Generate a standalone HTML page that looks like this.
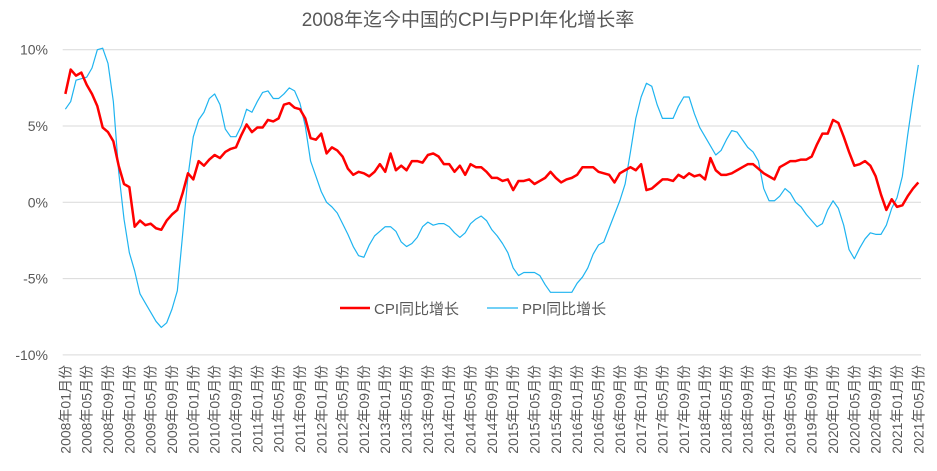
<!DOCTYPE html>
<html><head><meta charset="utf-8"><style>
html,body{margin:0;padding:0;background:#fff;}
svg{display:block;font-family:"Liberation Sans","Noto Sans CJK SC",sans-serif;}
</style></head><body>
<svg id="chart" width="937" height="471" viewBox="0 0 937 471" xmlns="http://www.w3.org/2000/svg">
<rect width="937" height="471" fill="#fff"/>
<text x="468" y="26" text-anchor="middle" font-size="19" fill="#595959" font-family="'Liberation Sans','Noto Sans CJK SC',sans-serif">2008年迄今中国的CPI与PPI年化增长率</text>
<g id="grid"></g><g id="ylabels"></g><g id="xlabels"></g><g id="series"></g>
<g>
<line x1="340" y1="308" x2="370" y2="308" stroke="#ff0000" stroke-width="2.5"/>
<text x="374" y="314" font-size="15" fill="#595959">CPI同比增长</text>
<line x1="487" y1="308" x2="518" y2="308" stroke="#1fb4f0" stroke-width="1.2"/>
<text x="522" y="314" font-size="15" fill="#595959">PPI同比增长</text>
</g>
</svg>
<script>
const yTicks = [10, 5, 0, -5, -10];
const yTickLabels = ["10%", "5%", "0%", "-5%", "-10%"];
const startYear = 2008, startMonth = 1;
const cpi = [7.1,8.7,8.3,8.5,7.7,7.1,6.3,4.9,4.6,4.0,2.4,1.2,
1.0,-1.6,-1.2,-1.5,-1.4,-1.7,-1.8,-1.2,-0.8,-0.5,0.6,1.9,
1.5,2.7,2.4,2.8,3.1,2.9,3.3,3.5,3.6,4.4,5.1,4.6,
4.9,4.9,5.4,5.3,5.5,6.4,6.5,6.2,6.1,5.5,4.2,4.1,
4.5,3.2,3.6,3.4,3.0,2.2,1.8,2.0,1.9,1.7,2.0,2.5,
2.0,3.2,2.1,2.4,2.1,2.7,2.7,2.6,3.1,3.2,3.0,2.5,
2.5,2.0,2.4,1.8,2.5,2.3,2.3,2.0,1.6,1.6,1.4,1.5,
0.8,1.4,1.4,1.5,1.2,1.4,1.6,2.0,1.6,1.3,1.5,1.6,
1.8,2.3,2.3,2.3,2.0,1.9,1.8,1.3,1.9,2.1,2.3,2.1,
2.5,0.8,0.9,1.2,1.5,1.5,1.4,1.8,1.6,1.9,1.7,1.8,
1.5,2.9,2.1,1.8,1.8,1.9,2.1,2.3,2.5,2.5,2.2,1.9,
1.7,1.5,2.3,2.5,2.7,2.7,2.8,2.8,3.0,3.8,4.5,4.5,
5.4,5.2,4.3,3.3,2.4,2.5,2.7,2.4,1.7,0.5,-0.5,0.2,
-0.3,-0.2,0.4,0.9,1.3];
const ppi = [6.1,6.6,8.0,8.1,8.2,8.8,10.0,10.1,9.1,6.6,2.0,-1.1,
-3.3,-4.5,-6.0,-6.6,-7.2,-7.8,-8.2,-7.9,-7.0,-5.8,-2.1,1.7,
4.3,5.4,5.9,6.8,7.1,6.4,4.8,4.3,4.3,5.0,6.1,5.9,
6.6,7.2,7.3,6.8,6.8,7.1,7.5,7.3,6.5,5.0,2.7,1.7,
0.7,0.0,-0.3,-0.7,-1.4,-2.1,-2.9,-3.5,-3.6,-2.8,-2.2,-1.9,
-1.6,-1.6,-1.9,-2.6,-2.9,-2.7,-2.3,-1.6,-1.3,-1.5,-1.4,-1.4,
-1.6,-2.0,-2.3,-2.0,-1.4,-1.1,-0.9,-1.2,-1.8,-2.2,-2.7,-3.3,
-4.3,-4.8,-4.6,-4.6,-4.6,-4.8,-5.4,-5.9,-5.9,-5.9,-5.9,-5.9,
-5.3,-4.9,-4.3,-3.4,-2.8,-2.6,-1.7,-0.8,0.1,1.2,3.3,5.5,
6.9,7.8,7.6,6.4,5.5,5.5,5.5,6.3,6.9,6.9,5.8,4.9,
4.3,3.7,3.1,3.4,4.1,4.7,4.6,4.1,3.6,3.3,2.7,0.9,
0.1,0.1,0.4,0.9,0.6,0.0,-0.3,-0.8,-1.2,-1.6,-1.4,-0.5,
0.1,-0.4,-1.5,-3.1,-3.7,-3.0,-2.4,-2.0,-2.1,-2.1,-1.5,-0.4,
0.3,1.7,4.4,6.8,9.0];

const NS = "http://www.w3.org/2000/svg";
const plotL = 62.7, plotR = 921;
const n = cpi.length;
const step = (plotR - plotL) / n;
function xPos(i){ return plotL + step * (i + 0.5); }
function yPos(v){ return 202.3 - v * 15.26; }
function mk(tag, attrs, parent){ const e = document.createElementNS(NS, tag); for (const k in attrs) e.setAttribute(k, attrs[k]); parent.appendChild(e); return e; }

const grid = document.getElementById('grid');
const yl = document.getElementById('ylabels');
yTicks.forEach((t, k) => {
  const ln = mk('line', {x1: plotL, x2: plotR, y1: yPos(t), y2: yPos(t), stroke: '#d9d9d9', 'stroke-width': 1}, grid);
  
  
  const tx = mk('text', {x: 48, y: yPos(t) + 5, 'text-anchor': 'end', 'font-size': 14, fill: '#595959'}, yl);
  
  
  tx.textContent = yTickLabels[k];
});

const xl = document.getElementById('xlabels');
for (let i = 0; i < n; i += 4) {
  const m = (startMonth - 1 + i) % 12 + 1, y = startYear + Math.floor((startMonth - 1 + i) / 12);
  const x = xPos(i) + 5;
  const tx = mk('text', {x: x, y: 365, 'text-anchor': 'end', 'font-size': 14, fill: '#595959', transform: `rotate(-90 ${x} 365)`}, xl);
  
  
  tx.textContent = y + '年' + String(m).padStart(2, '0') + '月份';
}

const sg = document.getElementById('series');
function pts(arr){ return arr.map((v, i) => xPos(i).toFixed(2) + ',' + yPos(v).toFixed(2)).join(' '); }
const pp = mk('polyline', {points: pts(ppi), fill: 'none', stroke: '#1fb4f0', 'stroke-width': 1.2, 'stroke-linejoin': 'round'}, sg);


const cp = mk('polyline', {points: pts(cpi), fill: 'none', stroke: '#ff0000', 'stroke-width': 2.5, 'stroke-linejoin': 'round'}, sg);


</script>
</body></html>
